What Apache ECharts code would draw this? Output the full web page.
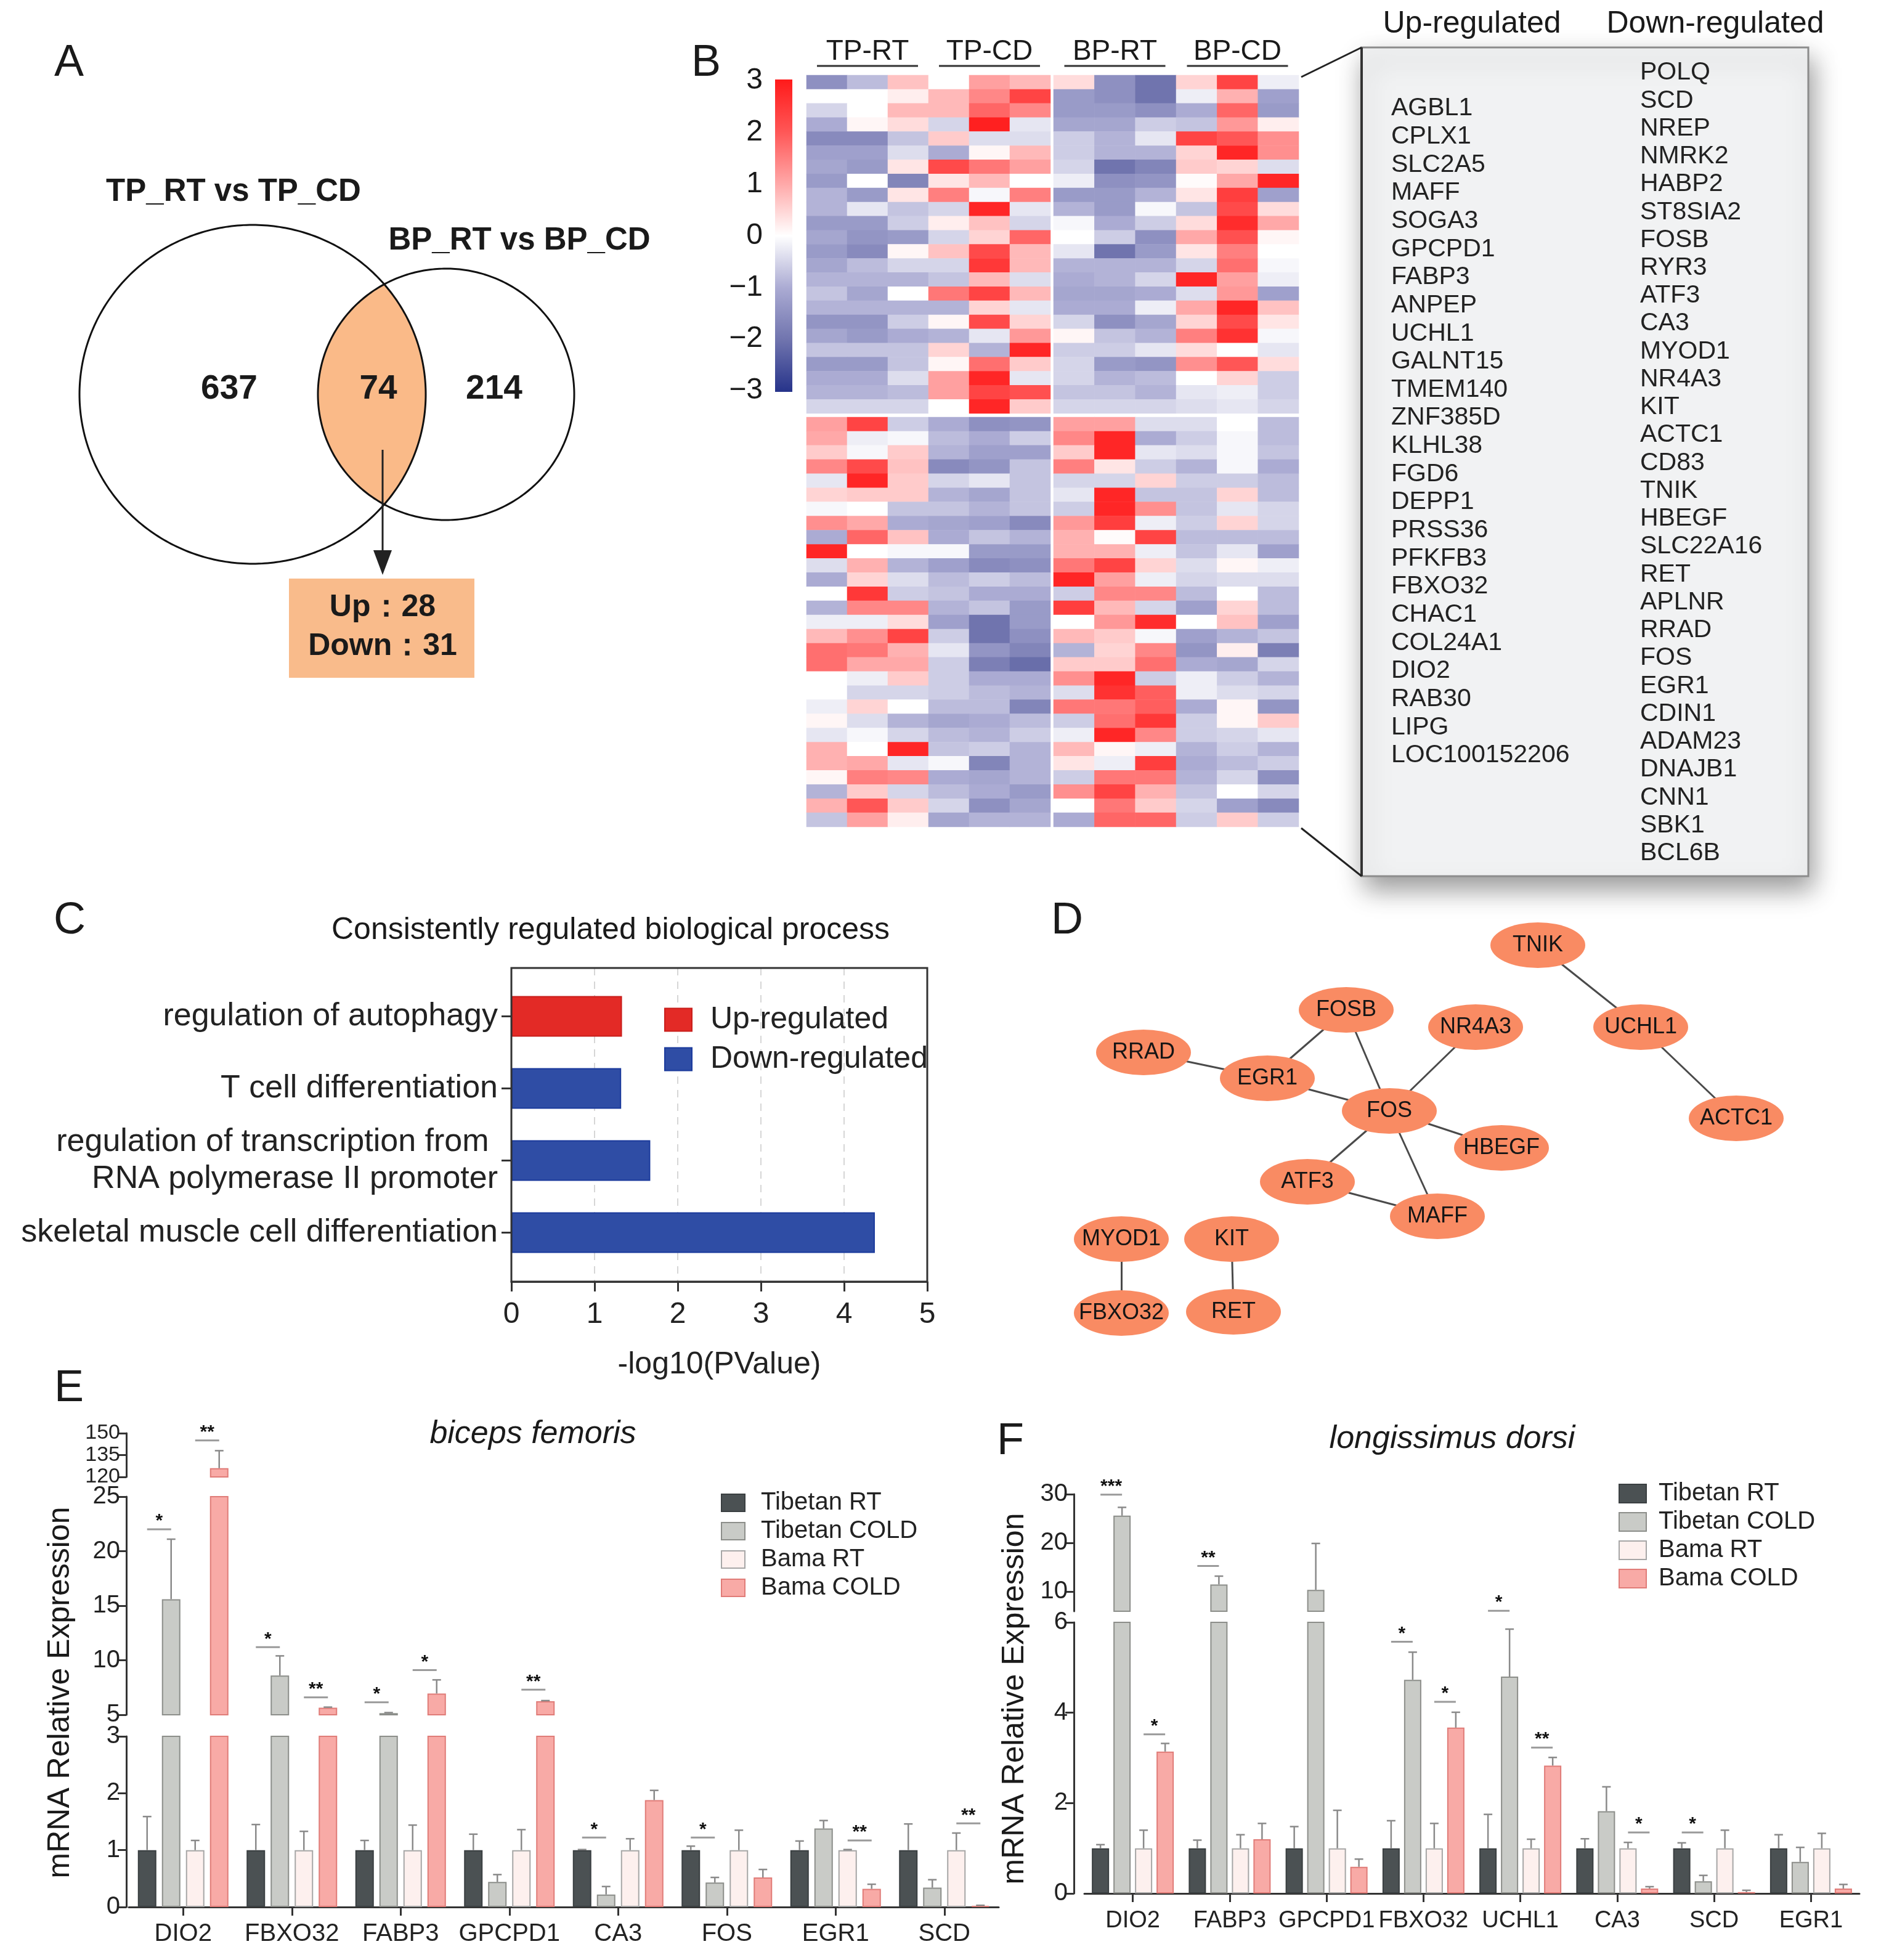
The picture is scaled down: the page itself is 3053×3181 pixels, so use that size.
<!DOCTYPE html>
<html><head><meta charset="utf-8">
<script src="https://cdn.jsdelivr.net/npm/echarts@6/dist/echarts.min.js"></script>
<style>html,body{margin:0;padding:0;background:#fff}#c{width:3053px;height:3181px}</style>
</head><body><div id="c"></div>
<script>
// ================= DATA =================
const vennSets = ['TP_RT vs TP_CD', 'BP_RT vs BP_CD'];
const vennCounts = ['637', '74', '214'];
const vennOverlap = ['Up：28', 'Down：31'];

const heatGroups = ['TP-RT', 'TP-CD', 'BP-RT', 'BP-CD'];
const sampleNames = ['TP-RT-1','TP-RT-2','TP-RT-3','TP-CD-1','TP-CD-2','TP-CD-3','BP-RT-1','BP-RT-2','BP-RT-3','BP-CD-1','BP-CD-2','BP-CD-3'];
const colorbarTicks = [3, 2, 1, 0, -1, -2, -3];
const upGenes = ['AGBL1','CPLX1','SLC2A5','MAFF','SOGA3','GPCPD1','FABP3','ANPEP','UCHL1','GALNT15','TMEM140','ZNF385D','KLHL38','FGD6','DEPP1','PRSS36','PFKFB3','FBXO32','CHAC1','COL24A1','DIO2','RAB30','LIPG','LOC100152206'];
const downGenes = ['POLQ','SCD','NREP','NMRK2','HABP2','ST8SIA2','FOSB','RYR3','ATF3','CA3','MYOD1','NR4A3','KIT','ACTC1','CD83','TNIK','HBEGF','SLC22A16','RET','APLNR','RRAD','FOS','EGR1','CDIN1','ADAM23','DNAJB1','CNN1','SBK1','BCL6B'];
const heatUp = [
 [-1.5,-0.8,0.7,0,1.1,0.8,0.4,-1.5,-2.0,0.5,2.3,-0.2],
 [0,0,0.2,0.8,1.4,2.3,-1.3,-1.5,-2.0,-0.2,0.9,-1.2],
 [-0.5,0,0.8,0.8,1.8,1.4,-1.3,-1.3,-1.5,-1.0,1.8,-1.3],
 [-1.0,0.1,0.4,-0.5,2.9,-0.3,-1.1,-1.1,-0.6,-0.7,1.2,0.2],
 [-1.6,-1.6,-0.7,0.6,-0.4,-0.4,-0.6,-0.9,-0.3,2.3,2.0,1.3],
 [-1.2,-1.2,-0.4,-1.0,0.1,0.8,-0.6,-0.9,-0.9,0.5,2.8,1.3],
 [-1.1,-1.3,0.3,2.2,1.6,1.1,-0.5,-2.0,-1.7,0.6,0.5,-0.4],
 [-1.3,0,-1.7,0.3,0.8,0,-0.2,-1.5,-1.4,0.05,1.0,2.8],
 [-0.9,-1.3,0.3,1.5,-0.1,1.5,-1.3,-1.3,-0.9,0.3,2.4,-1.2],
 [-0.9,-0.3,-0.7,-0.5,2.8,-0.3,-0.9,-1.3,-0.1,-0.7,2.2,0.4],
 [-1.3,-1.3,-0.6,0.2,0.7,-0.5,-0.1,-1.0,-0.6,0.4,2.7,1.0],
 [-1.1,-1.4,-1.3,-0.5,0.5,1.8,0,-0.6,-1.5,1.0,2.1,0.1],
 [-1.3,-1.6,0.1,0.7,2.2,0.8,-0.3,-2.0,-1.3,0.3,1.5,0],
 [-1.1,-0.8,-0.5,-0.5,2.5,0.8,-0.9,-0.9,-0.9,-0.5,1.7,-0.1],
 [-0.9,-0.9,-0.9,-0.7,0.8,-0.4,-1.0,-0.9,-0.5,2.8,1.1,-0.2],
 [-0.7,-1.1,0,1.6,2.3,0.8,-1.1,-1.1,-1.0,-0.4,1.2,-1.2],
 [-0.9,-0.9,-0.9,-0.9,0.5,-0.3,-1.0,-1.0,-0.2,1.0,2.8,0.7],
 [-1.4,-1.4,-0.6,0.1,2.2,0.5,-0.5,-1.5,-1.1,0.5,2.2,0.3],
 [-1.1,-1.3,-1.0,-0.9,-0.3,1.2,0.1,-0.7,-0.9,1.5,2.6,-0.1],
 [-0.7,-0.7,-0.7,0.5,-0.9,2.8,-0.6,-0.6,-0.3,0.4,0,-0.3],
 [-1.3,-1.3,-0.7,0.1,1.7,0.6,-0.5,-1.3,-1.4,1.3,2.0,0.4],
 [-1.0,-1.0,-0.4,1.1,2.8,-0.3,-0.5,-0.9,-0.8,0,0.5,-0.6],
 [-0.9,-0.9,-0.8,1.1,2.3,2.1,-0.7,-0.7,-0.9,-0.3,-0.2,-0.6],
 [-0.5,-0.5,-0.5,0,2.8,0.6,-0.5,-0.5,-0.5,-0.4,-0.3,-0.5]
];
const heatDown = [
 [1.1,2.3,-0.6,-1.0,-1.5,-1.4,1.1,1.1,-0.4,-0.4,0,-0.8],
 [1.0,-0.2,-0.1,-0.8,-1.0,-0.6,1.4,2.8,-1.0,-0.6,-0.1,-0.8],
 [0.6,-0.1,0.6,-0.9,-1.2,-1.2,0.6,2.8,-0.3,-0.4,-0.1,-0.7],
 [1.4,2.2,0.7,-1.6,-1.4,-0.7,1.5,0.3,-0.6,-0.9,-0.1,-1.0],
 [-0.3,2.8,0.6,-0.5,-0.3,-0.7,-0.5,-0.5,0.5,-0.6,-0.6,-0.8],
 [0.5,0.6,0.6,-0.9,-1.1,-0.7,-0.3,2.8,-0.7,-0.7,0.5,-0.8],
 [-0.1,0,-0.7,-0.7,-0.9,-0.7,-0.6,2.8,1.3,-0.7,-0.3,-0.5],
 [1.3,1.0,-1.0,-1.1,-1.2,-1.6,1.2,2.4,-0.2,-0.6,0.5,-0.5],
 [-1.0,1.8,0.7,-1.0,-0.7,-0.9,0.9,0.05,2.3,-0.8,-0.8,-0.8],
 [2.8,0,-0.1,-0.1,-1.3,-1.3,0.9,0.9,-0.2,-0.7,-0.3,-1.2],
 [-0.4,0.9,-0.9,-1.2,-1.6,-1.5,1.6,2.3,0.5,-0.4,0.1,-0.2],
 [-1.0,0.5,-0.4,-0.8,-0.6,-0.8,2.8,1.1,-0.2,-0.5,-0.4,-0.4],
 [0,2.5,-0.6,-0.7,-1.0,-1.0,-0.6,1.4,1.4,-0.8,0,-0.8],
 [-0.9,1.4,1.4,-0.9,-0.7,-1.3,2.4,0.8,-0.5,-1.2,0.5,-0.8],
 [-0.2,-0.2,0.4,-1.2,-2.0,-1.3,0,1.2,2.7,0,0.7,-1.2],
 [0.8,1.3,2.3,-0.6,-2.0,-1.5,0.8,0.6,-0.1,-1.2,-0.9,-0.7],
 [1.7,1.6,0.9,-0.3,-1.4,-1.7,-0.9,0.5,1.4,-1.4,0.2,-1.8],
 [1.7,1.0,1.0,-0.6,-1.8,-2.1,0.6,0.6,1.7,-1.0,-1.1,-0.5],
 [0,-0.2,0.6,-0.6,-1.0,-1.0,1.3,2.8,-0.6,-0.2,-0.6,-0.9],
 [0,-0.5,-0.5,-0.6,-0.8,-0.9,-0.4,2.6,1.9,-0.2,-0.4,-0.5],
 [-0.2,0.5,0,-0.8,-0.8,-1.7,1.6,1.6,1.9,-1.0,0.1,-1.4],
 [0.1,-0.4,-0.9,-1.1,-1.0,-0.8,-0.6,1.7,2.5,-0.6,0.1,0.6],
 [-0.3,-0.1,-0.5,-0.8,-0.9,-0.6,-0.2,2.8,1.4,-0.6,-0.5,-0.3],
 [0.9,0,2.8,-0.7,-0.6,-0.9,0.8,0.1,-0.2,-0.9,-0.6,-0.9],
 [0.9,1.0,-0.3,-0.1,-1.7,-0.9,0.3,-0.2,2.4,-1.0,-0.8,-0.6],
 [0.1,1.5,1.4,-1.0,-1.1,-0.9,-0.6,1.6,1.6,-0.9,-0.5,-1.5],
 [-0.9,0.6,-0.5,-0.8,-1.0,-1.3,1.3,2.3,0.9,-0.7,0,-0.5],
 [0.9,2.0,0.6,-0.5,-1.5,-1.1,0,1.6,0.6,-0.5,-1.2,-1.6],
 [-0.7,1.1,0.2,-1.1,-0.9,-0.9,-1.0,1.8,1.8,-0.6,0.6,-0.6]
];

const goTitle = 'Consistently regulated biological process';
const goTerms = ['regulation of autophagy', 'T cell differentiation', 'regulation of transcription from \nRNA polymerase II promoter', 'skeletal muscle cell differentiation'];
const goUp = [1.33, '-', '-', '-'];
const goDown = ['-', 1.32, 1.67, 4.37];
const goTicks = [0, 5, 1];

const netNodes = ['TNIK','FOSB','NR4A3','UCHL1','RRAD','EGR1','FOS','ACTC1','HBEGF','ATF3','MAFF','MYOD1','KIT','FBXO32','RET'];
const netLinks = [['TNIK','UCHL1'],['UCHL1','ACTC1'],['FOSB','EGR1'],['FOSB','FOS'],['RRAD','EGR1'],['EGR1','FOS'],['NR4A3','FOS'],['FOS','HBEGF'],['FOS','ATF3'],['FOS','MAFF'],['ATF3','MAFF'],['MYOD1','FBXO32'],['KIT','RET']];

const groupNames = ['Tibetan RT', 'Tibetan COLD', 'Bama RT', 'Bama COLD'];
const catsE = ['DIO2','FBXO32','FABP3','GPCPD1','CA3','FOS','EGR1','SCD'];
const meanE = [
 [1,1,1,1,1,1,1,1],
 [15.6,8.6,5.15,0.44,0.22,0.43,1.38,0.34],
 [1,1,1,1,1,1,1,1],
 [126,5.65,6.95,6.25,1.88,0.52,0.32,0.02]];
const errE = [
 [0.59,0.45,0.17,0.28,0.01,0.07,0.16,0.46],
 [5.5,1.8,0.05,0.13,0.14,0.09,0.14,0.14],
 [0.17,0.33,0.44,0.36,0.2,0.35,0.01,0.3],
 [12,0.05,1.25,0.05,0.17,0.14,0.08,0.01]];
// [category, barA, barB, height, label]
const sigE = [[0,0,1,22.0,'*'],[0,2,3,145,'**'],[1,0,1,11.2,'*'],[1,2,3,6.6,'**'],[2,0,1,6.15,'*'],[2,2,3,9.1,'*'],[3,2,3,7.3,'**'],[4,0,1,1.22,'*'],[5,0,1,1.22,'*'],[6,2,3,1.17,'**'],[7,2,3,1.47,'**']];

const catsF = ['DIO2','FABP3','GPCPD1','FBXO32','UCHL1','CA3','SCD','EGR1'];
const meanF = [
 [1,1,1,1,1,1,1,1],
 [25.6,11.5,10.4,4.73,4.8,1.82,0.27,0.7],
 [1,1,1,1,1,1,1,1],
 [3.14,1.2,0.59,3.67,2.83,0.11,0.03,0.11]];
const errF = [
 [0.08,0.18,0.48,0.61,0.75,0.21,0.12,0.3],
 [1.7,1.7,9.5,0.61,1.05,0.54,0.13,0.32],
 [0.4,0.3,0.84,0.55,0.2,0.13,0.4,0.33],
 [0.18,0.35,0.17,0.34,0.18,0.04,0.04,0.09]];
const sigF = [[0,0,1,29.9,'***'],[0,2,3,3.52,'*'],[1,0,1,15.3,'**'],[3,0,1,5.57,'*'],[3,2,3,4.24,'*'],[4,0,1,6.1,'*'],[4,2,3,3.23,'**'],[5,2,3,1.35,'*'],[6,0,1,1.35,'*']];

// ================= LAYOUT / STYLE =================
const FF = "'Liberation Sans', Arial, Helvetica, sans-serif";
const heatColors = ['#26338A','#7074AE','#ABABD3','#FFFFFF','#FFA8A8','#FF5656','#FF1A1A'];
const barStyles = [
 {color:'#4B5153', borderColor:'#3A3F41'},
 {color:'#C9CBC7', borderColor:'#8C8E8A'},
 {color:'#FDF0EE', borderColor:'#A6A6A6'},
 {color:'#F8AAA6', borderColor:'#E07C78'}];
const netLayout = [[2496,1534],[2185,1639],[2395,1667],[2663,1667],[1856,1708],[2057,1750],[2255,1803],[2818,1815],[2437,1863],[2122,1918],[2333,1974],[1820,2011],[1999,2011],[1820,2131],[2002,2129]];

const grid = [], xAxis = [], yAxis = [], series = [], graphic = [];
function addGrid(g, xa, ya) {
  const i = grid.length;
  grid.push(g); xa.gridIndex = i; ya.gridIndex = i; xAxis.push(xa); yAxis.push(ya);
  return i;
}
function T(x, y, text, o) {
  graphic.push({type:'text', x, y, z:50, silent:true,
    style:Object.assign({text, fill:'#1a1a1a', fontFamily:FF, fontSize:40, align:'center', verticalAlign:'middle'}, o || {})});
}
function L(x1, y1, x2, y2, o) {
  graphic.push({type:'line', z:40, silent:true, shape:{x1, y1, x2, y2}, style:Object.assign({stroke:'#222', lineWidth:3}, o || {})});
}

// ---------- Panel B: heatmap ----------
const HM = {left:1309, midL:1705, midR:1710, right:2108, top:122, midT:671, midB:677, bottom:1342};
const blocks = [
  {genes:upGenes, mat:heatUp, c0:0, left:HM.left, width:HM.midL-HM.left, top:HM.top, height:HM.midT-HM.top},
  {genes:upGenes, mat:heatUp, c0:6, left:HM.midR, width:HM.right-HM.midR, top:HM.top, height:HM.midT-HM.top},
  {genes:downGenes, mat:heatDown, c0:0, left:HM.left, width:HM.midL-HM.left, top:HM.midB, height:HM.bottom-HM.midB},
  {genes:downGenes, mat:heatDown, c0:6, left:HM.midR, width:HM.right-HM.midR, top:HM.midB, height:HM.bottom-HM.midB}];
blocks.forEach(b => {
  const gi = addGrid({left:b.left, top:b.top, width:b.width, height:b.height},
    {type:'category', data:sampleNames.slice(b.c0, b.c0+6), show:false},
    {type:'category', data:b.genes, inverse:true, show:false});
  const data = [];
  b.mat.forEach((row, r) => { for (let c = 0; c < 6; c++) data.push([c, r, row[b.c0+c]]); });
  series.push({type:'heatmap', xAxisIndex:gi, yAxisIndex:gi, data, silent:true, itemStyle:{borderWidth:0}, emphasis:{disabled:true}});
});

// ---------- Panel C ----------
const C = {left:830, top:1571, width:675, height:509};
const gC = addGrid({left:C.left, top:C.top, width:C.width, height:C.height},
  {type:'value', min:goTicks[0], max:goTicks[1], interval:goTicks[2],
   axisLine:{show:true, lineStyle:{color:'#333', width:3}},
   axisTick:{show:true, length:16, lineStyle:{color:'#333', width:3}},
   axisLabel:{fontSize:48, color:'#222', margin:30, fontFamily:FF},
   splitLine:{show:true, showMinLine:false, showMaxLine:false, lineStyle:{color:'#d6d6d6', width:2, type:[12,10]}},
   name:'-log10(PValue)', nameLocation:'middle', nameGap:110, nameTextStyle:{fontSize:50, color:'#222', fontFamily:FF}},
  {type:'value', min:0, max:1, show:false});
const gC2 = addGrid({left:C.left, top:1591, width:C.width, height:468},
  {type:'value', min:goTicks[0], max:goTicks[1], show:false},
  {type:'category', data:goTerms, inverse:true, axisLine:{show:false},
   axisTick:{show:true, alignWithLabel:true, length:16, lineStyle:{color:'#333', width:3}},
   axisLabel:{fontSize:52, color:'#222', margin:22, lineHeight:60, fontFamily:FF}});
series.push({type:'bar', name:'Up-regulated', xAxisIndex:gC2, yAxisIndex:gC2, data:goUp, barWidth:66, barGap:'-100%', silent:true,
  itemStyle:{color:'#E32A26', borderColor:'#C81E1B', borderWidth:2}});
series.push({type:'bar', name:'Down-regulated', xAxisIndex:gC2, yAxisIndex:gC2, data:goDown, barWidth:66, barGap:'-100%', silent:true,
  itemStyle:{color:'#2F4DA5', borderColor:'#1B3A9C', borderWidth:2}});
graphic.push({type:'rect', z:45, silent:true, shape:{x:C.left, y:C.top, width:C.width, height:C.height}, style:{fill:'none', stroke:'#333', lineWidth:3}});

// ---------- Panel D: network ----------
const gD = addGrid({left:0, top:0, width:3053, height:3181},
  {type:'value', min:0, max:3053, show:false},
  {type:'value', min:0, max:3181, inverse:true, show:false});
series.push({type:'graph', layout:'none', coordinateSystem:'cartesian2d', xAxisIndex:gD, yAxisIndex:gD, silent:true,
  symbol:'path://M0,37A77,37 0 1,1 154,37A77,37 0 1,1 0,37Z', symbolSize:[154,74],
  data:netNodes.map((n, i) => ({name:n, value:netLayout[i]})),
  links:netLinks.map(([s, t]) => ({source:s, target:t})),
  itemStyle:{color:'#F98B63'}, lineStyle:{color:'#4a4a4a', width:3, opacity:1, curveness:0},
  label:{show:true, position:'inside', fontSize:36, fontFamily:FF, color:'#151515'},
  emphasis:{disabled:true}});

// ---------- Panels E & F ----------
function segIndex(segs, v) { let idx = 0; segs.forEach((s, i) => { if (v >= s.lo) idx = i; }); return idx; }
function barPanel(p) {
  const step = p.barW + p.gap;
  p.segs.forEach((sg, k) => {
    const fs = sg.font || 40;
    const ya = {type:'value', min:sg.lo, max:sg.hi, offset:p.offset,
      axisLine:{show:true, lineStyle:{color:'#333', width:3}},
      axisTick:{show:true, length:14, lineStyle:{color:'#333', width:3}},
      axisLabel:{fontSize:fs, lineHeight:Math.min(fs, 30), color:'#222', margin:10, fontFamily:FF, showMinLabel:true, showMaxLabel:true, hideOverlap:false},
      splitLine:{show:false}};
    if (sg.interval) ya.interval = sg.interval;
    if (sg.ticks) { ya.axisLabel.customValues = sg.ticks; ya.axisTick.customValues = sg.ticks; }
    const gi = addGrid({left:p.left, top:sg.top, width:p.width, height:sg.height},
      {type:'category', data:p.cats, show:k === 0,
       axisLine:{show:true, lineStyle:{color:'#333', width:3}},
       axisTick:{show:true, alignWithLabel:true, length:14, lineStyle:{color:'#333', width:3}},
       axisLabel:{interval:0, fontSize:p.catFont, color:'#222', margin:p.labelMargin, fontFamily:FF}}, ya);
    groupNames.forEach((nm, s) => series.push({type:'bar', name:nm, xAxisIndex:gi, yAxisIndex:gi, data:p.means[s],
      barWidth:p.barW, barGap:(p.gap / p.barW * 100).toFixed(1) + '%', clip:true, silent:true, z:2,
      itemStyle:Object.assign({borderWidth:2}, barStyles[s])}));
    const err = [];
    p.means.forEach((arr, s) => arr.forEach((m, c) => { const t = m + p.errs[s][c]; if (segIndex(p.segs, t) === k) err.push([c, m, t, s]); }));
    series.push({type:'custom', xAxisIndex:gi, yAxisIndex:gi, data:err, silent:true, z:3,
      renderItem:(params, api) => {
        const c = api.value(0), m = api.value(1), t = api.value(2), s = api.value(3);
        const p0 = api.coord([c, m]), p1 = api.coord([c, t]);
        const x = p0[0] + (s - 1.5) * step;
        const st = {stroke:'#8a8a8a', lineWidth:2.5};
        return {type:'group', children:[
          {type:'line', shape:{x1:x, y1:p0[1], x2:x, y2:p1[1]}, style:st},
          {type:'line', shape:{x1:x-7, y1:p1[1], x2:x+7, y2:p1[1]}, style:st}]};
      }});
    const sd = [];
    p.sigs.forEach((q, i) => { if (segIndex(p.segs, q[3]) === k) sd.push([q[0], q[3], i]); });
    series.push({type:'custom', xAxisIndex:gi, yAxisIndex:gi, data:sd, silent:true, z:4,
      renderItem:(params, api) => {
        const q = p.sigs[api.value(2)];
        const pt = api.coord([q[0], q[3]]);
        const xa = pt[0] + (q[1] - 1.5) * step, xb = pt[0] + (q[2] - 1.5) * step;
        return {type:'group', children:[
          {type:'line', shape:{x1:xa, y1:pt[1], x2:xb, y2:pt[1]}, style:{stroke:'#9a9a9a', lineWidth:3}},
          {type:'text', x:(xa + xb) / 2, y:pt[1] - 13, style:{text:q[4], fontSize:30, fontWeight:'bold', fontFamily:FF, fill:'#111', align:'center', verticalAlign:'middle'}}]};
      }});
  });
}
barPanel({cats:catsE, means:meanE, errs:errE, sigs:sigE, left:209, width:1412, offset:4, barW:30, gap:9, labelMargin:24, catFont:40,
  segs:[{lo:0, hi:3, interval:1, top:2818, height:277}, {lo:5, hi:25, interval:5, top:2429, height:354}, {lo:120, hi:150, interval:15, top:2326, height:71, font:34}]});
barPanel({cats:catsF, means:meanF, errs:errF, sigs:sigF, left:1760, width:1258, offset:17, barW:28, gap:7, labelMargin:26, catFont:38,
  segs:[{lo:0, hi:6, interval:2, top:2633, height:440}, {lo:6, hi:30, ticks:[10,20,30], top:2425, height:190}]});

// ---------- Graphics: Venn (A) ----------
const VL = {cx:410, cy:640, rx:281, ry:275}, VR = {cx:724, cy:640, rx:208, ry:204};
function ellipsePts(e, n) { const a = []; for (let i = 0; i < n; i++) { const t = 2 * Math.PI * i / n; a.push([e.cx + e.rx * Math.cos(t), e.cy + e.ry * Math.sin(t)]); } return a; }
(function () {
  const rightSide = [], leftSide = [];
  for (let i = 0; i <= 800; i++) {
    const y = VR.cy - VR.ry + 2 * VR.ry * i / 800;
    const dl = (y - VL.cy) / VL.ry, dr = (y - VR.cy) / VR.ry;
    if (Math.abs(dl) > 1 || Math.abs(dr) > 1) continue;
    const xr = VL.cx + VL.rx * Math.sqrt(1 - dl * dl), xl = VR.cx - VR.rx * Math.sqrt(1 - dr * dr);
    if (xl <= xr) { rightSide.push([xr, y]); leftSide.push([xl, y]); }
  }
  graphic.push({type:'polygon', z:10, silent:true, shape:{points:rightSide.concat(leftSide.reverse())}, style:{fill:'#FABA88'}});
})();
graphic.push({type:'polygon', z:11, silent:true, shape:{points:ellipsePts(VL, 360)}, style:{fill:'none', stroke:'#111', lineWidth:3}});
graphic.push({type:'polygon', z:11, silent:true, shape:{points:ellipsePts(VR, 360)}, style:{fill:'none', stroke:'#111', lineWidth:3}});
T(379, 312, vennSets[0], {fontSize:51, fontWeight:'bold'});
T(843, 391, vennSets[1], {fontSize:51, fontWeight:'bold'});
T(372, 632, vennCounts[0], {fontSize:55, fontWeight:'bold'});
T(614, 632, vennCounts[1], {fontSize:55, fontWeight:'bold'});
T(802, 632, vennCounts[2], {fontSize:55, fontWeight:'bold'});
L(621, 730, 621, 900, {stroke:'#222', lineWidth:3});
graphic.push({type:'polygon', z:41, silent:true, shape:{points:[[606,893],[636,893],[621,933]]}, style:{fill:'#222'}});
graphic.push({type:'rect', z:10, silent:true, shape:{x:469, y:939, width:301, height:161}, style:{fill:'#F9BB8B'}});
T(621, 986, vennOverlap[0], {fontSize:50, fontWeight:'bold'});
T(621, 1049, vennOverlap[1], {fontSize:50, fontWeight:'bold'});

// ---------- Graphics: heatmap decorations (B) ----------
heatGroups.forEach((g, i) => {
  const bl = i < 2 ? HM.left : HM.midR, bw = i < 2 ? HM.midL - HM.left : HM.right - HM.midR;
  const cx = bl + bw * (i % 2 === 0 ? 0.25 : 0.75);
  T(cx, 84, g, {fontSize:46});
  L(cx - 82, 107, cx + 82, 107, {stroke:'#333', lineWidth:3});
});
graphic.push({type:'rect', z:10, silent:true, shape:{x:1258, y:129, width:28, height:507},
  style:{fill:{type:'linear', x:0, y:0, x2:0, y2:1, colorStops:heatColors.slice().reverse().map((c, i) => ({offset:i / 6, color:c}))}}});
colorbarTicks.forEach(v => T(1238, 131 + (3 - v) / 6 * 503, v < 0 ? '\u2212' + Math.abs(v) : String(v), {fontSize:48, align:'right'}));

// gene list box
graphic.push({type:'rect', z:5, silent:true, shape:{x:2210, y:77, width:725, height:1345},
  style:{fill:'#F1F2F3', stroke:'#8c8c8c', lineWidth:3, shadowBlur:40, shadowOffsetX:6, shadowOffsetY:20, shadowColor:'rgba(0,0,0,0.4)'}});
L(2210, 77, 2210, 1422, {stroke:'#333', lineWidth:4});
L(2112, 125, 2210, 77, {stroke:'#222', lineWidth:3});
L(2112, 1344, 2210, 1422, {stroke:'#222', lineWidth:3});
T(2389, 39, 'Up-regulated', {fontSize:50});
T(2784, 39, 'Down-regulated', {fontSize:50});
upGenes.forEach((g, i) => T(2258, 176 + i * 45.65, g, {fontSize:41, align:'left', fill:'#222'}));
downGenes.forEach((g, i) => T(2662, 118 + i * 45.24, g, {fontSize:41, align:'left', fill:'#222'}));

// ---------- titles & panel letters ----------
T(991, 1510, goTitle, {fontSize:50});
T(865, 2328, 'biceps femoris', {fontSize:52, fontStyle:'italic'});
T(2357, 2336, 'longissimus dorsi', {fontSize:52, fontStyle:'italic'});
graphic.push({type:'text', x:98, y:2747, rotation:Math.PI / 2, z:50, silent:true,
  style:{text:'mRNA Relative Expression', fontSize:50, fontFamily:FF, fill:'#1a1a1a', align:'center', verticalAlign:'middle'}});
graphic.push({type:'text', x:1647, y:2757, rotation:Math.PI / 2, z:50, silent:true,
  style:{text:'mRNA Relative Expression', fontSize:50, fontFamily:FF, fill:'#1a1a1a', align:'center', verticalAlign:'middle'}});
[['A',112,103],['B',1146,103],['C',113,1495],['D',1732,1495],['E',112,2254],['F',1640,2340]].forEach(([t, x, y]) => T(x, y, t, {fontSize:72}));

// ================= CHART =================
const chart = echarts.init(document.getElementById('c'), null, {renderer:'canvas', width:3053, height:3181});
chart.setOption({
  animation:false,
  backgroundColor:'#ffffff',
  textStyle:{fontFamily:FF},
  grid, xAxis, yAxis, series,
  visualMap:{type:'continuous', min:-3, max:3, show:false, seriesIndex:[0,1,2,3], inRange:{color:heatColors}},
  legend:[
    {data:['Up-regulated','Down-regulated'], orient:'vertical', left:1073, top:1625, icon:'rect', itemWidth:44, itemHeight:37, itemGap:14, selectedMode:false,
     textStyle:{fontSize:50, color:'#222', fontFamily:FF, padding:[0,0,0,25]}},
    {data:groupNames, orient:'vertical', left:1165, top:2414, icon:'rect', itemWidth:38, itemHeight:28, itemGap:6, selectedMode:false,
     textStyle:{fontSize:40, color:'#222', fontFamily:FF, padding:[0,0,0,21]}},
    {data:groupNames, orient:'vertical', left:2622, top:2399, icon:'rect', itemWidth:44, itemHeight:30, itemGap:6, selectedMode:false,
     textStyle:{fontSize:40, color:'#222', fontFamily:FF, padding:[0,0,0,15]}}
  ],
  graphic:{elements:graphic}
});
</script>
</body></html>
